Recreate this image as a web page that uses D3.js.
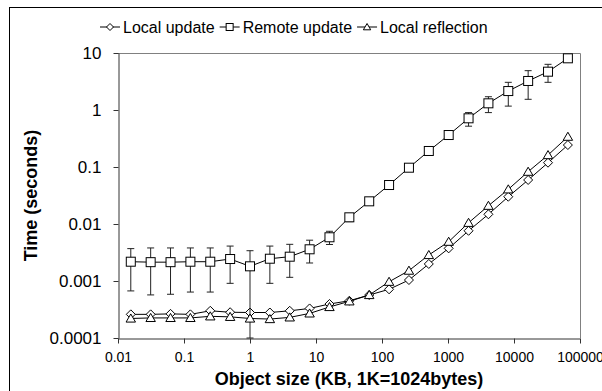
<!DOCTYPE html>
<html>
<head>
<meta charset="utf-8">
<script src="https://cdn.jsdelivr.net/npm/d3@7"></script>
<style>
  body { margin: 0; background: #fff; }
  svg { font-family: Arial, "Liberation Sans", sans-serif; }
</style>
</head>
<body>
<svg width="602" height="391"></svg>
<script>
// object sizes in KB: 1/64 ... 64K
var sizes = [0.015625, 0.03125, 0.0625, 0.125, 0.25, 0.5, 1, 2, 4, 8, 16, 32, 64,
             128, 256, 512, 1024, 2048, 4096, 8192, 16384, 32768, 65536];

var localUpdate = [0.00026, 0.00026, 0.000265, 0.00026, 0.0003, 0.000283, 0.00028, 0.00028,
                   0.0003, 0.00033, 0.000395, 0.00045, 0.000568, 0.000715, 0.00104, 0.00199,
                   0.00374, 0.0076, 0.0148, 0.0301, 0.0592, 0.119, 0.243];

var remoteUpdate = [0.00218, 0.00214, 0.00214, 0.00218, 0.00218, 0.00243, 0.00181, 0.00246,
                    0.00267, 0.0036, 0.00585, 0.0131, 0.025, 0.0483, 0.0972, 0.191,
                    0.364, 0.715, 1.31, 2.15, 3.23, 4.7, 8.07];
var remoteLow = [0.00067, 0.00057, 0.000585, 0.00064, 0.00064, 0.00091, 0.0001, 0.00091,
                 0.00116, 0.00207, 0.00437, 0.011, 0.022, 0.043, 0.088, 0.17,
                 0.32, 0.52, 0.9, 1.17, 1.54, 3.06, 7.5];
var remoteHigh = [0.0037, 0.0038, 0.0038, 0.0038, 0.0038, 0.0041, 0.0034, 0.0041,
                  0.0044, 0.0052, 0.00745, 0.015, 0.028, 0.053, 0.105, 0.21,
                  0.41, 0.9, 1.71, 3.06, 4.9, 6.33, 8.6];

var localReflection = [0.00022, 0.000225, 0.000225, 0.000225, 0.00024, 0.000235, 0.00022, 0.000215,
                       0.00023, 0.00027, 0.00035, 0.00044, 0.000568, 0.00097, 0.00152, 0.00286,
                       0.00489, 0.0105, 0.0209, 0.0406, 0.0827, 0.162, 0.34];

var seriesNames = ["Local update", "Remote update", "Local reflection"];
var xTicks = [0.01, 0.1, 1, 10, 100, 1000, 10000, 100000];
var xTickLabels = ["0.01", "0.1", "1", "10", "100", "1000", "10000", "100000"];
var yTicks = [0.0001, 0.001, 0.01, 0.1, 1, 10];
var yTickLabels = ["0.0001", "0.001", "0.01", "0.1", "1", "10"];

var svg = d3.select("svg");

var x = d3.scaleLog().domain([0.01, 100000]).range([118, 580]);
var y = d3.scaleLog().domain([0.0001, 10]).range([338, 53]);

// outer chart border
svg.append("rect")
    .attr("x", 9.5).attr("y", 7.5)
    .attr("width", 620).attr("height", 400)
    .attr("fill", "none").attr("stroke", "#000");

// plot frame (top/right)
svg.append("path")
    .attr("d", "M118,53.5H580.5V338")
    .attr("fill", "none").attr("stroke", "#808080");

var xAxis = svg.append("g")
    .attr("transform", "translate(0,338.5)")
    .call(d3.axisBottom(x).tickValues(xTicks)
        .tickFormat(function(d, i) { return xTickLabels[i]; })
        .tickSize(5).tickSizeOuter(0))
    .attr("font-family", null).attr("font-size", null);
xAxis.selectAll("text").attr("font-size", 14).attr("dy", "1.1em").attr("fill", "#000");

var yAxis = svg.append("g")
    .attr("transform", "translate(118.5,0)")
    .call(d3.axisLeft(y).tickValues(yTicks)
        .tickFormat(function(d, i) { return yTickLabels[i]; })
        .tickSize(5).tickSizeOuter(0))
    .attr("font-family", null).attr("font-size", null);
yAxis.selectAll("text").attr("font-size", 17).attr("x", -17).attr("fill", "#000");

svg.selectAll(".domain, .tick line").attr("stroke", "#333");

// axis titles
svg.append("text")
    .attr("x", 349).attr("y", 385)
    .attr("text-anchor", "middle")
    .attr("font-size", 18).attr("font-weight", "bold")
    .text("Object size (KB, 1K=1024bytes)");

svg.append("text")
    .attr("transform", "translate(37,195.5) rotate(-90)")
    .attr("text-anchor", "middle")
    .attr("font-size", 18).attr("font-weight", "bold")
    .text("Time (seconds)");

// marker shapes
function marker(sel, kind, s) {
    if (kind === 0) {
        sel.append("path").attr("d", "M0," + (-s) + "L" + s + ",0L0," + s + "L" + (-s) + ",0Z");
    } else if (kind === 1) {
        sel.append("rect").attr("x", -s).attr("y", -s).attr("width", 2 * s).attr("height", 2 * s);
    } else {
        sel.append("path").attr("d", "M0," + (-s) + "L" + (s * 1.05) + "," + (s * 0.8) + "L" + (-s * 1.05) + "," + (s * 0.8) + "Z");
    }
    sel.selectAll("path, rect").attr("fill", "#fff").attr("stroke", "#000").attr("stroke-width", 1);
}

var line = d3.line()
    .x(function(d) { return x(d[0]); })
    .y(function(d) { return y(d[1]); });

var allSeries = [localUpdate, remoteUpdate, localReflection];

allSeries.forEach(function(vals, k) {
    var pts = sizes.map(function(s, i) { return [s, vals[i]]; });
    var g = svg.append("g");
    g.append("path").datum(pts)
        .attr("d", line).attr("fill", "none").attr("stroke", "#000").attr("stroke-width", 1);

    if (k === 1) {
        var eb = g.selectAll(".eb").data(sizes).enter().append("g");
        eb.append("line")
            .attr("x1", function(d) { return x(d); }).attr("x2", function(d) { return x(d); })
            .attr("y1", function(d, i) { return y(remoteLow[i]); })
            .attr("y2", function(d, i) { return y(remoteHigh[i]); });
        eb.append("line")
            .attr("x1", function(d) { return x(d) - 3.5; }).attr("x2", function(d) { return x(d) + 3.5; })
            .attr("y1", function(d, i) { return y(remoteLow[i]); })
            .attr("y2", function(d, i) { return y(remoteLow[i]); });
        eb.append("line")
            .attr("x1", function(d) { return x(d) - 3.5; }).attr("x2", function(d) { return x(d) + 3.5; })
            .attr("y1", function(d, i) { return y(remoteHigh[i]); })
            .attr("y2", function(d, i) { return y(remoteHigh[i]); });
        eb.selectAll("line").attr("stroke", "#222").attr("stroke-width", 1);
    }

    g.selectAll(".m").data(pts).enter().append("g")
        .attr("transform", function(d) { return "translate(" + x(d[0]) + "," + y(d[1]) + ")"; })
        .each(function() { marker(d3.select(this), k, 4.5); });
});

// legend
var lx = 100, ly = 27;
seriesNames.forEach(function(name, k) {
    var g = svg.append("g");
    g.append("line").attr("x1", lx).attr("x2", lx + 20).attr("y1", ly).attr("y2", ly)
        .attr("stroke", "#000");
    var m = g.append("g").attr("transform", "translate(" + (lx + 10) + "," + ly + ")");
    marker(m, k, 3.5);
    var t = g.append("text").attr("x", lx + 23).attr("y", ly + 6)
        .attr("font-size", 16).text(name);
    lx = lx + 23 + t.node().getComputedTextLength() + 5;
});
</script>
</body>
</html>
